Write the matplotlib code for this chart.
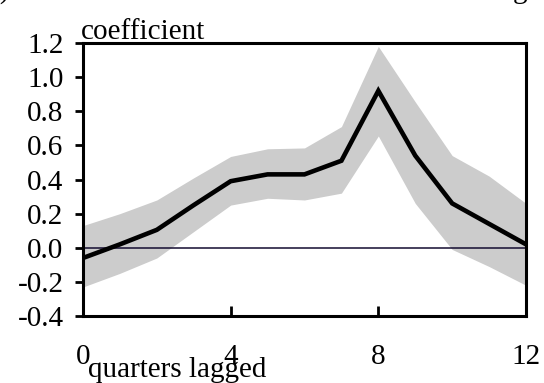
import matplotlib
matplotlib.use("Agg")
import matplotlib.pyplot as plt

# valores
quarters = [0, 1, 2, 3, 4, 5, 6, 7, 8, 9, 10, 11, 12]
coef = [-0.06, 0.02, 0.105, 0.25, 0.39, 0.43, 0.43, 0.51, 0.92, 0.54, 0.26, 0.14, 0.02]
upper = [0.13, 0.20, 0.28, 0.41, 0.535, 0.58, 0.585, 0.71, 1.18, 0.855, 0.54, 0.42, 0.26]
lower = [-0.23, -0.15, -0.06, 0.095, 0.25, 0.29, 0.28, 0.32, 0.655, 0.26, -0.01, -0.11, -0.22]
xticks = [0, 4, 8, 12]
yticks = [-0.4, -0.2, 0.0, 0.2, 0.4, 0.6, 0.8, 1.0, 1.2]

plt.rcParams["font.family"] = ["Liberation Serif", "DejaVu Serif"]

W, H = 544, 383
fig = plt.figure(figsize=(W / 100, H / 100), dpi=100)
ax = fig.add_axes([83 / W, 1 - 316 / H, (526 - 83) / W, (316 - 43) / H])

ax.fill_between(quarters, lower, upper, color="#cccccc", linewidth=0, zorder=1)
ax.axhline(0, color="#140c30", linewidth=1.1, zorder=2)
ax.plot(quarters, coef, color="black", linewidth=3.3, zorder=3,
        solid_joinstyle="miter")

ax.set_xlim(0, 12)
ax.set_ylim(-0.4, 1.2)
ax.set_xticks(xticks)
ax.set_yticks(yticks)
ax.set_yticklabels([f"{v:.1f}" for v in yticks])
ax.tick_params(axis="x", direction="in", length=7, width=2,
               pad=20, labelsize=21)
ax.tick_params(axis="y", direction="out", length=6, width=2,
               pad=8, labelsize=21)
for s in ax.spines.values():
    s.set_linewidth(2.2)

# título recortado en la parte superior
fig.text(-23 / W, 1 + 1 / H,
         "(a) Coefficient on real wealth effect on the wage gap",
         fontsize=21, va="baseline", ha="left")
fig.text(81 / W, 1 - 39 / H, "coefficient", fontsize=21, va="baseline", ha="left")
fig.text(88 / W, 1 - 377 / H, "quarters lagged", fontsize=21, va="baseline", ha="left")

fig.savefig("out.png", dpi=100)
